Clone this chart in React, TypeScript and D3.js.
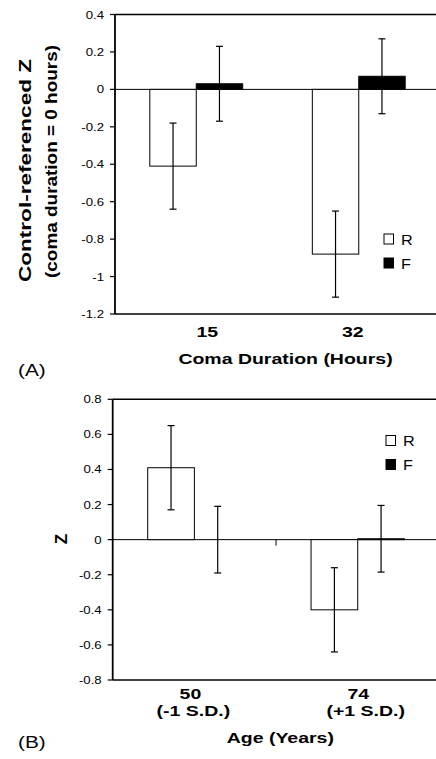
import React from "react";
import * as d3 from "d3";

// ---------- data ----------
const seriesNames = ["R", "F"];

const categoriesA = ["15", "32"];
const rValuesA = [-0.41, -0.88];
const rErrorsA = [0.23, 0.23];
const fValuesA = [0.03, 0.07];
const fErrorsA = [0.2, 0.2];
const ticksA = [0.4, 0.2, 0, -0.2, -0.4, -0.6, -0.8, -1, -1.2];
const tickLabelsA = ["0.4", "0.2", "0", "-0.2", "-0.4", "-0.6", "-0.8", "-1", "-1.2"];

const categoriesB = ["50", "74"];
const subLabelsB = ["(-1 S.D.)", "(+1 S.D.)"];
const rValuesB = [0.41, -0.4];
const rErrorsB = [0.24, 0.24];
const fValuesB = [0.0, 0.005];
const fErrorsB = [0.19, 0.19];
const ticksB = [0.8, 0.6, 0.4, 0.2, 0, -0.2, -0.4, -0.6, -0.8];
const tickLabelsB = ["0.8", "0.6", "0.4", "0.2", "0", "-0.2", "-0.4", "-0.6", "-0.8"];

const FONT = "'Liberation Sans', Arial, Helvetica, sans-serif";

type PanelProps = {
  categories: string[];
  rVals: number[];
  rErr: number[];
  fVals: number[];
  fErr: number[];
  ticks: number[];
  tickLabels: string[];
  x0: number;
  x1: number;
  yTop: number;
  yBot: number;
  domain: [number, number];
  catTick: boolean;
};

function Panel(p: PanelProps) {
  const x = d3.scaleBand<string>().domain(p.categories).range([p.x0, p.x1]).paddingInner(0).paddingOuter(0);
  const inner = d3
    .scaleBand<string>()
    .domain(seriesNames)
    .range([0, x.bandwidth()])
    .paddingInner(0)
    .paddingOuter(0.75);
  const y = d3.scaleLinear().domain(p.domain).range([p.yBot, p.yTop]);
  const bw = inner.bandwidth();
  const series = [
    { name: "R", vals: p.rVals, err: p.rErr, fill: "#fff" },
    { name: "F", vals: p.fVals, err: p.fErr, fill: "#000" },
  ];
  return (
    <g>
      {/* frame */}
      <line x1={p.x0} x2={440} y1={y(p.domain[1])} y2={y(p.domain[1])} stroke="#000" strokeWidth={1.5} />
      <line x1={p.x0} x2={440} y1={y(p.domain[0])} y2={y(p.domain[0])} stroke="#000" strokeWidth={1.5} />
      <line x1={p.x0} x2={p.x0} y1={y(p.domain[1])} y2={y(p.domain[0])} stroke="#000" strokeWidth={1.8} />
      {/* y ticks */}
      {p.ticks.map((t, i) => (
        <g key={i}>
          <line x1={p.x0 - 5} x2={p.x0} y1={y(t)} y2={y(t)} stroke="#000" strokeWidth={1.2} />
          <text
            transform={`translate(${p.x0 - 11},${y(t) + 4}) scale(1.2,1)`}
            textAnchor="end"
            fontFamily={FONT}
            fontSize={11}
            fill="#000"
          >
            {p.tickLabels[i]}
          </text>
        </g>
      ))}
      {/* zero line */}
      <line x1={p.x0} x2={440} y1={y(0)} y2={y(0)} stroke="#000" strokeWidth={1} />
      {p.catTick &&
        p.categories.slice(1).map((c) => (
          <line key={c} x1={x(c)!} x2={x(c)!} y1={y(0)} y2={y(0) + 6} stroke="#000" strokeWidth={1} />
        ))}
      {/* bars */}
      {series.map((s) =>
        p.categories.map((c, i) => {
          const v = s.vals[i];
          const bx = x(c)! + inner(s.name)!;
          const top = y(Math.max(0, v));
          const h = Math.abs(y(v) - y(0));
          if (h <= 0) return null;
          return (
            <rect
              key={s.name + c}
              x={bx}
              y={top}
              width={bw}
              height={h}
              fill={s.fill}
              stroke="#000"
              strokeWidth={1}
            />
          );
        })
      )}
      {/* error bars */}
      {series.map((s) =>
        p.categories.map((c, i) => {
          const v = s.vals[i];
          const e = s.err[i];
          const cx = x(c)! + inner(s.name)! + bw / 2;
          return (
            <g key={"e" + s.name + c} stroke="#000" strokeWidth={1.2}>
              <line x1={cx} x2={cx} y1={y(v + e)} y2={y(v - e)} />
              <line x1={cx - 3.5} x2={cx + 3.5} y1={y(v + e)} y2={y(v + e)} />
              <line x1={cx - 3.5} x2={cx + 3.5} y1={y(v - e)} y2={y(v - e)} />
            </g>
          );
        })
      )}
    </g>
  );
}

function Legend({ x, y }: { x: number; y: number }) {
  return (
    <g>
      {seriesNames.map((n, i) => (
        <g key={n}>
          <rect
            x={x}
            y={y + i * 24}
            width={9.5}
            height={10}
            fill={n === "R" ? "#fff" : "#000"}
            stroke="#000"
            strokeWidth={1}
          />
          <text
            transform={`translate(${x + 17},${y + i * 24 + 10.5}) scale(1.08,1)`}
            fontFamily={FONT}
            fontSize={15}
            fill="#000"
          >
            {n}
          </text>
        </g>
      ))}
    </g>
  );
}

function BoldLabel({ x, y, text, size = 15 }: { x: number; y: number; text: string; size?: number }) {
  return (
    <text
      transform={`translate(${x},${y}) scale(1.3,1)`}
      textAnchor="middle"
      fontFamily={FONT}
      fontWeight="bold"
      fontSize={size}
      fill="#000"
    >
      {text}
    </text>
  );
}

export default function App() {
  const xA = d3.scaleBand<string>().domain(categoriesA).range([115, 440]);
  const xB = d3.scaleBand<string>().domain(categoriesB).range([112.7, 439.4]);
  const shiftA = [11, -6];
  const shiftB = [-4, 0.6];
  const shiftSubB = [-1, 8];
  return (
    <svg
      width={436}
      height={759}
      style={{ position: "absolute", left: 0, top: 0, background: "#fff" }}
    >
      <rect x={0} y={0} width={436} height={759} fill="#fff" />
      {/* Panel A */}
      <Panel
        categories={categoriesA}
        rVals={rValuesA}
        rErr={rErrorsA}
        fVals={fValuesA}
        fErr={fErrorsA}
        ticks={ticksA}
        tickLabels={tickLabelsA}
        x0={115}
        x1={440}
        yTop={14.5}
        yBot={314}
        domain={[-1.2, 0.4]}
        catTick={false}
      />
      <Legend x={384} y={234} />
      {categoriesA.map((c, i) => (
        <BoldLabel key={c} x={xA(c)! + xA.bandwidth() / 2 + shiftA[i]} y={336.5} text={c} />
      ))}
      <BoldLabel x={285.5} y={364} text="Coma Duration (Hours)" />
      <text
        transform="translate(18,375.5) scale(1.3,1)"
        fontFamily={FONT}
        fontSize={16}
        fill="#000"
      >
        (A)
      </text>
      <text
        transform="translate(30.5,170.5) rotate(-90)"
        textAnchor="middle"
        fontFamily={FONT}
        fontWeight="bold"
        fontSize={17}
        textLength={223}
        lengthAdjust="spacingAndGlyphs"
        fill="#000"
      >
        Control-referenced Z
      </text>
      <text
        transform="translate(57,161.5) rotate(-90)"
        textAnchor="middle"
        fontFamily={FONT}
        fontWeight="bold"
        fontSize={17}
        textLength={233}
        lengthAdjust="spacingAndGlyphs"
        fill="#000"
      >
        (coma duration = 0 hours)
      </text>

      {/* Panel B */}
      <Panel
        categories={categoriesB}
        rVals={rValuesB}
        rErr={rErrorsB}
        fVals={fValuesB}
        fErr={fErrorsB}
        ticks={ticksB}
        tickLabels={tickLabelsB}
        x0={112.7}
        x1={439.4}
        yTop={399.3}
        yBot={680}
        domain={[-0.8, 0.8]}
        catTick={true}
      />
      <Legend x={386} y={435.5} />
      {categoriesB.map((c, i) => (
        <BoldLabel key={c} x={xB(c)! + xB.bandwidth() / 2 + shiftB[i]} y={699} text={c} />
      ))}
      {categoriesB.map((c, i) => (
        <BoldLabel key={"s" + c} x={xB(c)! + xB.bandwidth() / 2 + shiftSubB[i]} y={716} text={subLabelsB[i]} />
      ))}
      <BoldLabel x={280.3} y={742.7} text="Age (Years)" />
      <text
        transform="translate(18,748) scale(1.3,1)"
        fontFamily={FONT}
        fontSize={16}
        fill="#000"
      >
        (B)
      </text>
      <text
        transform="translate(67,539) rotate(-90)"
        textAnchor="middle"
        fontFamily={FONT}
        fontWeight="bold"
        fontSize={17}
        fill="#000"
      >
        Z
      </text>
    </svg>
  );
}
